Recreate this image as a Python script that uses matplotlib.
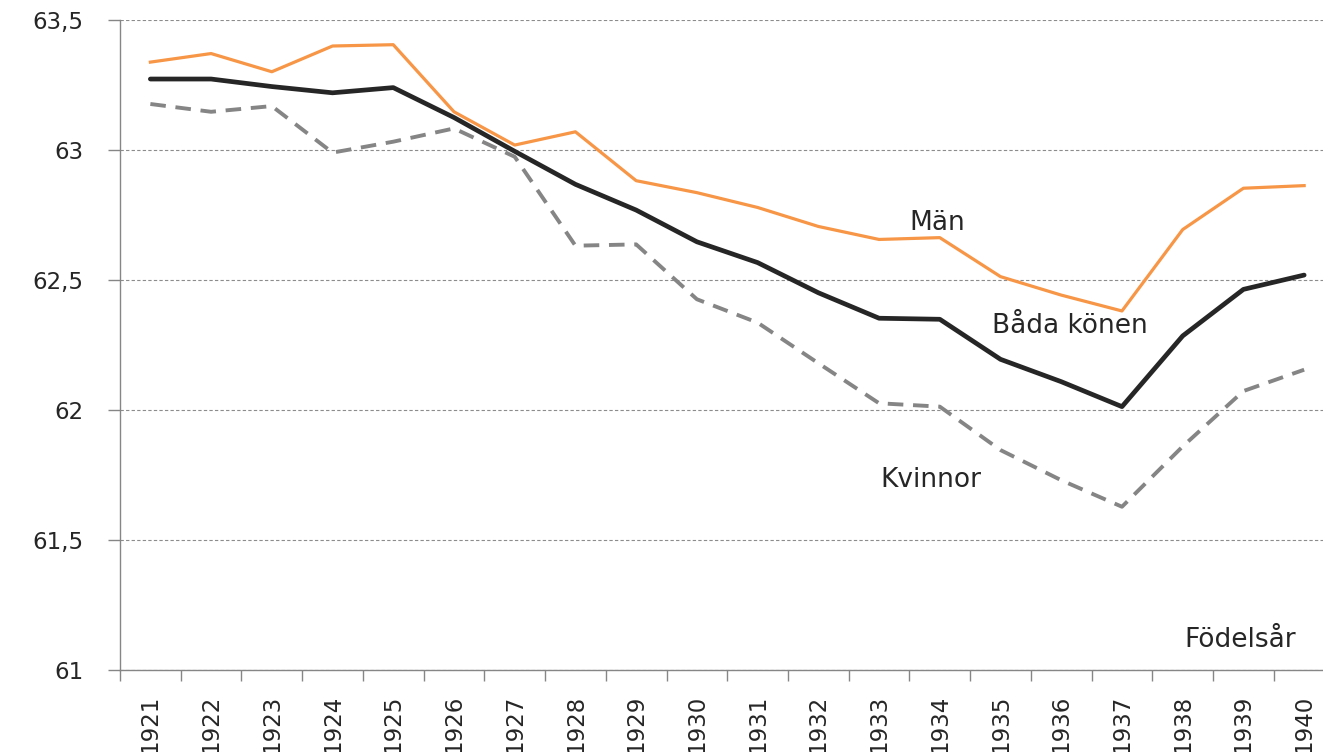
import matplotlib.pyplot as plt
import numpy as np

years = [str(y) for y in range(1921, 1941)]
man = [63.338, 63.371, 63.301, 63.400, 63.405, 63.147, 63.019, 63.070, 62.882, 62.836,
       62.779, 62.706, 62.656, 62.663, 62.513, 62.442, 62.381, 62.694, 62.853, 62.863]
bada = [63.273, 63.273, 63.244, 63.220, 63.240, 63.125, 62.995, 62.868, 62.769, 62.647,
        62.567, 62.451, 62.353, 62.349, 62.195, 62.109, 62.013, 62.285, 62.464, 62.519]
kvinnor = [63.177, 63.147, 63.169, 62.990, 63.032, 63.083, 62.974, 62.632, 62.637, 62.426,
           62.336, 62.180, 62.026, 62.013, 61.846, 61.730, 61.628, 61.860, 62.073, 62.155]
yticks = [61, 61.5, 62, 62.5, 63, 63.5]
ytick_labels = ["61", "61,5", "62", "62,5", "63", "63,5"]

plt.rcParams['font.family'] = ['DejaVu Sans']

fig = plt.figure(figsize=(13.23, 7.52), dpi=100)
ax = fig.add_axes([0.0907, 0.109, 0.918, 0.8644])

x = np.arange(len(years))
ax.plot(x, kvinnor, color='#858585', lw=2.8, linestyle=(0, (4, 2.5)), zorder=3)
ax.plot(x, man, color='#F79646', lw=2.3, zorder=4)
ax.plot(x, bada, color='#262626', lw=3.4, zorder=5, solid_capstyle='round')

ax.set_xlim(-0.5, len(years) - 0.5)
ax.set_ylim(61, 63.5)
ax.set_yticks(yticks)
ax.set_yticklabels(ytick_labels, fontsize=16.5, color='#262626')
ax.set_xticks(x)
ax.set_xticklabels(years, rotation=90, fontsize=16.5, color='#262626')
ax.set_xticks(np.arange(-0.5, len(years), 1), minor=True)
ax.tick_params(axis='x', which='major', length=0, pad=18)
ax.tick_params(axis='x', which='minor', length=8, color='#868686', width=1, direction='out')
ax.tick_params(axis='y', length=8.5, color='#868686', width=1, direction='out', pad=18)

ax.grid(axis='y', color='#8c8c8c', linestyle=(0, (3, 2)), linewidth=0.8)
ax.set_axisbelow(True)
for s in ['top', 'right']:
    ax.spines[s].set_visible(False)
for s in ['left', 'bottom']:
    ax.spines[s].set_color('#868686')
    ax.spines[s].set_linewidth(1)

ax.text(12.96, 62.692, "Män", fontsize=19, color='#262626', ha='center', va='baseline')
ax.text(15.15, 62.296, "Båda könen", fontsize=19, color='#262626', ha='center', va='baseline')
ax.text(12.86, 61.704, "Kvinnor", fontsize=19, color='#262626', ha='center', va='baseline')
ax.text(17.94, 61.088, "Födelsår", fontsize=19, color='#262626', ha='center', va='baseline')

fig.savefig("out.png", dpi=100)
